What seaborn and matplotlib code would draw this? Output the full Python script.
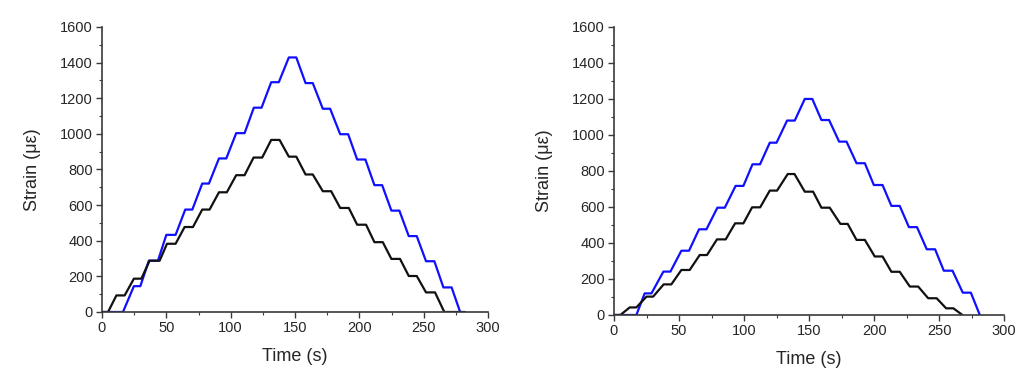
"""Step-loaded strain histories for two gauges, blue vs. black traces."""

import matplotlib.pyplot as plt
import pandas as pd
import seaborn as sns
from matplotlib.ticker import MultipleLocator

# left panel, blue trace (time in s, strain in microstrain)
left_blue_t = [0, 16.3, 24.8, 29.8, 36.4, 43.5, 50.0, 57.2, 64.7, 70.2, 77.9, 83.1,
               90.9, 96.6, 104.3, 110.8, 118.0, 124.0, 131.5, 137.4, 145.2, 151.0,
               158.2, 163.8, 171.6, 177.3, 185.1, 191.3, 198.3, 204.7, 211.7, 217.7,
               224.9, 231.1, 238.4, 244.6, 251.8, 258.3, 265.3, 271.7, 278.3]
left_blue_strain = [0, 0, 145, 145, 288, 288, 433, 433, 575, 575, 721, 721,
                    862, 862, 1004, 1004, 1147, 1147, 1290, 1290, 1429, 1429,
                    1285, 1285, 1141, 1141, 998, 998, 856, 856, 712, 712,
                    569, 569, 426, 426, 285, 285, 138, 138, 0]

# left panel, black trace
left_black_t = [0, 4.7, 11.2, 17.6, 24.8, 30.6, 37.0, 44.8, 50.5, 57.2, 64.2, 70.7,
                77.9, 83.6, 90.9, 97.0, 104.3, 110.8, 117.8, 124.5, 131.5, 138.0,
                145.2, 151.0, 158.2, 163.8, 171.6, 178.1, 185.1, 191.8, 198.3, 205.2,
                211.7, 218.2, 224.9, 231.6, 238.4, 244.6, 251.8, 258.8, 266.0, 282.0]
left_black_strain = [0, 0, 93, 93, 187, 187, 288, 288, 383, 383, 477, 477,
                     575, 575, 672, 672, 768, 768, 867, 867, 966, 966,
                     872, 872, 772, 772, 678, 678, 584, 584, 490, 490,
                     392, 392, 298, 298, 202, 202, 110, 110, 0, 0]

# right panel, blue trace
right_blue_t = [0, 17.2, 23.6, 28.8, 38.0, 43.4, 51.8, 57.7, 65.4, 71.1, 79.5, 85.2,
                93.5, 99.5, 106.5, 112.3, 119.8, 125.0, 133.1, 139.0, 146.7, 152.5,
                159.5, 165.4, 173.1, 178.8, 186.5, 192.9, 199.8, 206.5, 213.3, 219.7,
                226.8, 233.0, 240.5, 246.9, 253.6, 260.3, 268.2, 274.4, 281.3]
right_blue_strain = [0, 0, 120, 120, 241, 241, 357, 357, 476, 476, 596, 596,
                     717, 717, 837, 837, 957, 957, 1080, 1080, 1200, 1200,
                     1083, 1083, 963, 963, 843, 843, 722, 722, 606, 606,
                     488, 488, 365, 365, 246, 246, 124, 124, 0]

# right panel, black trace
right_black_t = [0, 4.9, 12.1, 17.2, 25.0, 30.1, 38.2, 44.1, 51.8, 58.2, 65.9, 71.5,
                 79.2, 85.9, 93.1, 99.5, 106.2, 112.4, 119.8, 125.4, 133.6, 138.8,
                 146.7, 153.1, 159.5, 165.9, 174.1, 179.7, 186.5, 192.9, 200.5, 206.5,
                 213.3, 219.7, 227.5, 233.9, 241.6, 248.1, 255.4, 261.0, 267.9]
right_black_strain = [0, 0, 42, 42, 102, 102, 170, 170, 250, 250, 333, 333,
                      420, 420, 509, 509, 598, 598, 691, 691, 783, 783,
                      685, 685, 596, 596, 506, 506, 417, 417, 325, 325,
                      240, 240, 158, 158, 93, 93, 37, 37, 0]

sns.set_theme(style="ticks")
plt.rcParams["font.family"] = ["Liberation Sans", "DejaVu Sans"]

AXIS_GREY = "#3a3a3a"


def draw_panel(ax, traces):
    for t, s, colour in traces:
        df = pd.DataFrame({"time": t, "strain": s})
        sns.lineplot(data=df, x="time", y="strain", color=colour, lw=1.6,
                     estimator=None, sort=False, ax=ax)
    ax.set_xlim(0, 300)
    ax.set_ylim(0, 1600)
    ax.xaxis.set_major_locator(MultipleLocator(50))
    ax.xaxis.set_minor_locator(MultipleLocator(25))
    ax.yaxis.set_major_locator(MultipleLocator(200))
    ax.yaxis.set_minor_locator(MultipleLocator(100))
    ax.tick_params(which="major", length=4, width=1, color=AXIS_GREY,
                   labelsize=10.5, pad=2.5)
    ax.tick_params(which="minor", length=2.5, width=0.8, color=AXIS_GREY)
    for side in ("top", "right"):
        ax.spines[side].set_visible(False)
    for side in ("left", "bottom"):
        ax.spines[side].set_color(AXIS_GREY)
        ax.spines[side].set_linewidth(1.2)
        ax.spines[side].set_clip_on(False)
    ax.set_xlabel("Time (s)", fontsize=13, labelpad=9)
    ax.set_ylabel("Strain (με)", fontsize=13, labelpad=14)


fig = plt.figure(figsize=(10.24, 3.79), dpi=100)
ax_left = fig.add_axes([0.0996, 0.1768, 0.377, 0.752])
ax_right = fig.add_axes([0.5996, 0.1689, 0.381, 0.760])

draw_panel(ax_left, [(left_blue_t, left_blue_strain, "#1010ff"),
                     (left_black_t, left_black_strain, "#111111")])
draw_panel(ax_right, [(right_blue_t, right_blue_strain, "#1010ff"),
                      (right_black_t, right_black_strain, "#111111")])

fig.savefig("out.png", dpi=100)
